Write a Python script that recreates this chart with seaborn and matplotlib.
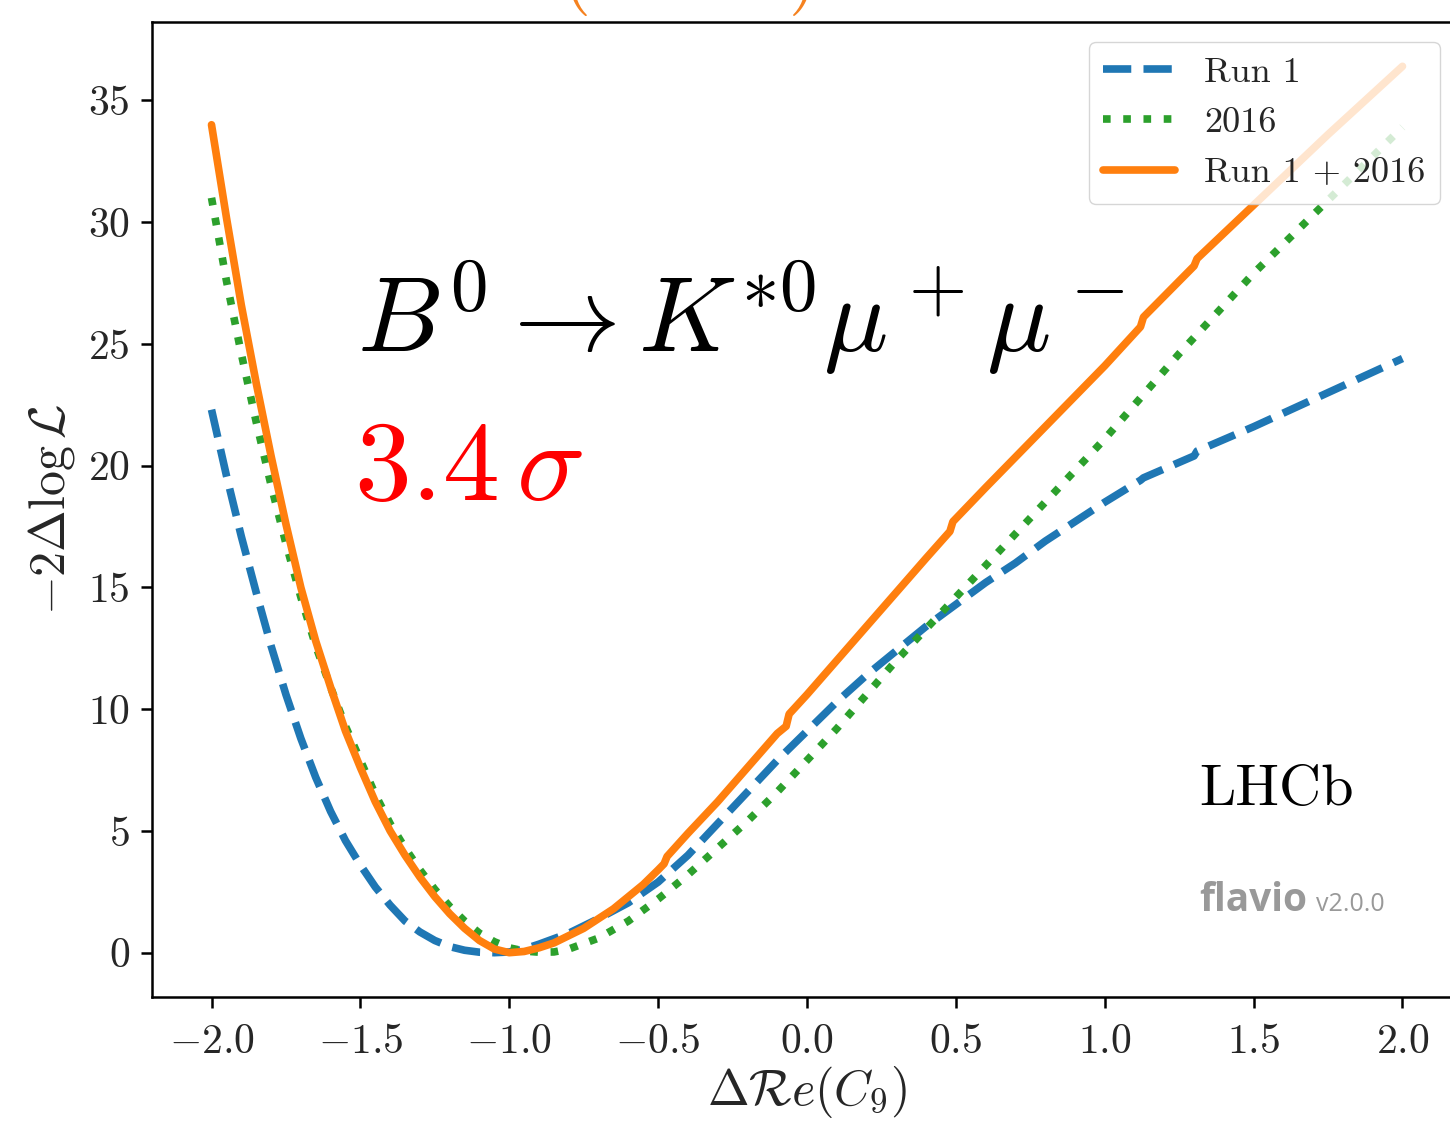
import numpy as np
import pandas as pd
import matplotlib
matplotlib.use("Agg")
import matplotlib.pyplot as plt
import seaborn as sns

# profile of -2 Delta log L versus Delta Re(C9)
x_run1 = [-2.0, -1.95, -1.9, -1.85, -1.8, -1.75, -1.7, -1.65, -1.6, -1.55, -1.5, -1.45,
          -1.4, -1.35, -1.3, -1.25, -1.2, -1.15, -1.1, -1.05, -1.0, -0.95, -0.9, -0.8,
          -0.7, -0.6, -0.5, -0.4, -0.3, -0.2, -0.1, 0.0, 0.1, 0.2, 0.3, 0.4, 0.5, 0.6,
          0.7, 0.8, 0.9, 1.0, 1.12, 1.13, 1.3, 1.31, 1.5, 1.75, 2.0]
y_run1 = [22.3, 19.6, 17.1, 14.8, 12.6, 10.6, 8.8, 7.2, 5.8, 4.6, 3.6, 2.7,
          1.95, 1.3, 0.85, 0.5, 0.25, 0.1, 0.02, 0.0, 0.03, 0.15, 0.35, 0.8,
          1.4, 2.05, 2.9, 4.0, 5.3, 6.6, 7.9, 9.1, 10.3, 11.4, 12.4, 13.4, 14.3, 15.2,
          16.0, 16.9, 17.7, 18.5, 19.4, 19.5, 20.4, 20.6, 21.6, 23.0, 24.4]

x_2016 = [-2.0, -1.95, -1.9, -1.85, -1.8, -1.75, -1.7, -1.65, -1.6, -1.55, -1.5, -1.45,
          -1.4, -1.35, -1.3, -1.25, -1.2, -1.15, -1.1, -1.05, -1.0, -0.95, -0.9, -0.85,
          -0.8, -0.7, -0.6, -0.5, -0.4, -0.3, -0.2, -0.1, 0.0, 0.1, 0.2, 0.3, 0.4, 0.5,
          0.6, 0.7, 0.8, 0.9, 1.0, 1.25, 1.5, 1.75, 2.0]
y_2016 = [31.0, 27.6, 24.6, 21.8, 19.2, 16.8, 14.6, 12.6, 10.9, 9.3, 7.9, 6.5,
          5.3, 4.3, 3.4, 2.6, 1.9, 1.3, 0.8, 0.45, 0.2, 0.07, 0.02, 0.03,
          0.15, 0.6, 1.3, 2.2, 3.2, 4.3, 5.4, 6.6, 7.9, 9.2, 10.6, 12.0, 13.3, 14.6,
          15.9, 17.2, 18.5, 19.8, 21.1, 24.6, 27.9, 30.9, 33.9]

x_comb = [-2.0, -1.95, -1.9, -1.85, -1.8, -1.75, -1.7, -1.65, -1.6, -1.55, -1.5, -1.45,
          -1.4, -1.35, -1.3, -1.25, -1.2, -1.15, -1.1, -1.05, -1.0, -0.95, -0.9, -0.85,
          -0.8, -0.75, -0.7, -0.65, -0.6, -0.55, -0.5, -0.48, -0.47, -0.4, -0.3, -0.2,
          -0.1, -0.07, -0.06, 0.0, 0.1, 0.2, 0.3, 0.4, 0.48, 0.49, 0.6, 0.8, 1.0,
          1.12, 1.13, 1.3, 1.31, 1.5, 1.75, 2.0]
y_comb = [34.0, 30.2, 26.6, 23.4, 20.4, 17.6, 15.0, 12.8, 10.9, 9.1, 7.6, 6.2,
          5.0, 4.0, 3.1, 2.3, 1.6, 1.0, 0.5, 0.15, 0.0, 0.05, 0.2, 0.4,
          0.7, 1.0, 1.4, 1.8, 2.3, 2.8, 3.4, 3.65, 3.95, 4.9, 6.2, 7.6,
          9.0, 9.3, 9.8, 10.6, 12.0, 13.4, 14.8, 16.2, 17.3, 17.7, 19.1, 21.6, 24.1,
          25.7, 26.1, 28.2, 28.5, 30.7, 33.6, 36.4]

labels = ["Run 1", "2016", "Run 1 + 2016"]
colors = ["#1f77b4", "#2ca02c", "#ff7f0e"]
styles = ["--", ":", "-"]

sns.set_theme(style="ticks")
plt.rcParams["font.family"] = ["serif"]
plt.rcParams["font.serif"] = ["cmr10"]
plt.rcParams["mathtext.fontset"] = "cm"
plt.rcParams["axes.formatter.use_mathtext"] = True
plt.rcParams["axes.unicode_minus"] = True

fig = plt.figure(figsize=(14.5, 11.22), dpi=100)
ax = fig.add_axes([0.1048, 0.1114, 0.9035, 0.869])

series = [(x_run1, y_run1), (x_2016, y_2016), (x_comb, y_comb)]
for (xs, ys), lab, col, ls in zip(series, labels, colors, styles):
    df = pd.DataFrame({"x": xs, "y": ys})
    sns.lineplot(data=df, x="x", y="y", ax=ax, color=col, linestyle=ls,
                 linewidth=5.5, label=lab)

ax.set_xticks([-2.0, -1.5, -1.0, -0.5, 0.0, 0.5, 1.0, 1.5, 2.0])
ax.set_yticks([0, 5, 10, 15, 20, 25, 30, 35])
ax.tick_params(axis="both", labelsize=30, length=8, width=1.8, direction="out",
               color="black")
ax.tick_params(axis="x", pad=11)
ax.tick_params(axis="y", pad=8)
for sp in ax.spines.values():
    sp.set_color("black")
    sp.set_linewidth(1.8)
ax.grid(False)

ax.set_xlabel(r"$\Delta\mathcal{R}e(C_9)$", fontsize=36, labelpad=2)
ax.set_ylabel(r"$-2\Delta\log\mathcal{L}$", fontsize=36, labelpad=8)

ax.text(-1.51, 24.66, r"$B^0\to K^{*0}\mu^+\mu^-$", fontsize=77, color="black",
        ha="left", va="baseline")
ax.text(-1.52, 18.6, r"$3.4\,\sigma$", fontsize=82, color="#ff0000",
        ha="left", va="baseline")
ax.text(1.318, 6.07, "LHCb", fontsize=42, color="black", ha="left", va="baseline")
ax.text(1.318, 1.7, "flavio", fontsize=28, fontweight="bold", color="#999999",
        family=["Open Sans", "DejaVu Sans"], ha="left", va="baseline")
ax.text(1.71, 1.7, "v2.0.0", fontsize=18, color="#999999",
        family=["Open Sans", "DejaVu Sans"], ha="left", va="baseline")

leg = ax.legend(loc="upper right", bbox_to_anchor=(0.9832, 0.9795), borderaxespad=0,
                fontsize=26, handlelength=2.0, frameon=True, fancybox=True)
leg.get_frame().set_edgecolor("#cccccc")
leg.get_frame().set_alpha(0.8)

# orange heading of the slide, cut off at the top edge
fig.text(0.476, 1.003, "(LHCb)", fontsize=54, color="#f58220", ha="center",
         va="baseline", family=["serif"])

fig.savefig("out.png", dpi=100)
